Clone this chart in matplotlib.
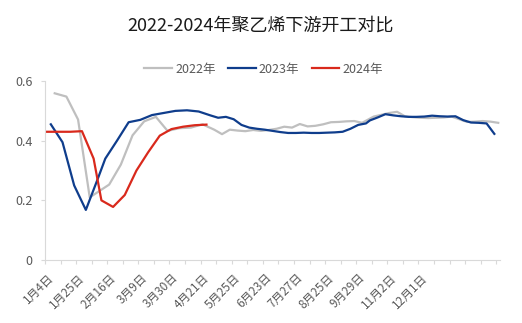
import matplotlib
matplotlib.use('Agg')
import matplotlib.pyplot as plt
import numpy as np
import pandas as pd

plt.rcParams['font.family'] = ['Noto Sans CJK SC', 'DejaVu Sans']

# weekly (Thursday) readings, nan = no data that week
v2022 = [0.559, 0.548, 0.471, 0.21, np.nan, 0.253, 0.32, 0.418, 0.465, 0.48,
         0.433, 0.442, 0.444, 0.455, 0.437, 0.422, 0.437, 0.434, 0.432, 0.436,
         0.433, 0.436, 0.44, 0.447, 0.444, 0.456, 0.448, 0.45, 0.455, 0.462,
         0.463, 0.465, 0.466, 0.46, np.nan, 0.481, 0.487, 0.493, 0.497, 0.482,
         0.479, 0.477, 0.476, 0.477, 0.478, 0.481, 0.472, 0.463, 0.464, 0.466,
         0.464, 0.46]
v2023 = [0.455, 0.395, 0.25, 0.168, 0.27, 0.34, 0.40, 0.462, 0.47, 0.486,
         0.493, 0.50, 0.502, 0.498, 0.485, 0.477, 0.48, 0.472, 0.453, 0.444,
         0.44, 0.437, 0.433, 0.429, 0.426, 0.426, 0.427, 0.426, 0.426, 0.427,
         0.428, 0.43, 0.44, 0.453, 0.458, 0.468, 0.478, 0.489, 0.485, 0.482,
         0.48, 0.48, 0.481, 0.484, 0.482, 0.481, 0.482, 0.469, 0.461, 0.46,
         0.458, 0.423]
v2024 = [0.43, 0.43, 0.43, 0.432, 0.34, 0.20, 0.178, 0.218, 0.30, 0.361,
         0.417, 0.439, 0.447, 0.452, 0.454]

start = {'2022年': '2022-01-06', '2023年': '2023-01-05', '2024年': '2024-01-04'}
values = {'2022年': v2022, '2023年': v2023, '2024年': v2024}
colors = {'2022年': '#BFBFBF', '2023年': '#0F3D8C', '2024年': '#D9291C'}

tick_labels = ['1月4日', '1月25日', '2月16日', '3月9日', '3月30日', '4月21日',
               '5月25日', '6月23日', '7月27日', '8月25日', '9月29日',
               '11月2日', '12月1日']

# category axis = union of month/day of every year's report dates
frames = []
for name, vals in values.items():
    d = pd.date_range(start[name], periods=len(vals), freq='7D')
    df = pd.DataFrame({'md': list(zip(d.month, d.day)), 'v': vals})
    df = df.dropna()
    df['name'] = name
    frames.append(df)
allp = pd.concat(frames)
cats = sorted(set(allp['md']))
pos = {md: i for i, md in enumerate(cats)}
allp['x'] = allp['md'].map(pos)
n = len(cats)

fig = plt.figure(figsize=(5.22, 3.23), dpi=100)
ax = fig.add_axes([0.0862, 0.195, 0.872, 0.554])

for name in values:
    s = allp[allp['name'] == name]
    ax.plot(s['x'], s['v'], color=colors[name], lw=1.6, label=name,
            solid_joinstyle='round')

ax.set_xlim(-0.5, n - 0.5)
ax.set_ylim(0, 0.6)
ax.set_yticks([0, 0.2, 0.4, 0.6])
ax.set_yticklabels(['0', '0.2', '0.4', '0.6'])
ax.set_xticks(np.arange(len(tick_labels)) * 8)
ax.set_xticklabels(tick_labels, rotation=45, ha='right', rotation_mode='anchor')
ax.set_xticks(np.arange(-0.5, n, 4), minor=True)
ax.tick_params(axis='x', which='major', length=0, pad=8, labelsize=8.5,
               labelcolor='#595959')
ax.tick_params(axis='x', which='minor', length=3, color='#D9D9D9', width=0.8)
ax.tick_params(axis='y', length=3, color='#D9D9D9', width=0.8, labelsize=9,
               labelcolor='#595959', pad=6)
for sp in ['top', 'right']:
    ax.spines[sp].set_visible(False)
for sp in ['left', 'bottom']:
    ax.spines[sp].set_color('#D9D9D9')
    ax.spines[sp].set_linewidth(0.8)

fig.legend(loc='center', bbox_to_anchor=(0.505, 0.786), ncol=3, frameon=False,
           fontsize=9, handlelength=2.2, handletextpad=0.25, columnspacing=1.0,
           labelcolor='#595959')
fig.text(0.5, 0.92, '2022-2024年聚乙烯下游开工对比', ha='center', va='center',
         fontsize=13, color='#1a1a1a')

fig.savefig('out.png', dpi=100)
